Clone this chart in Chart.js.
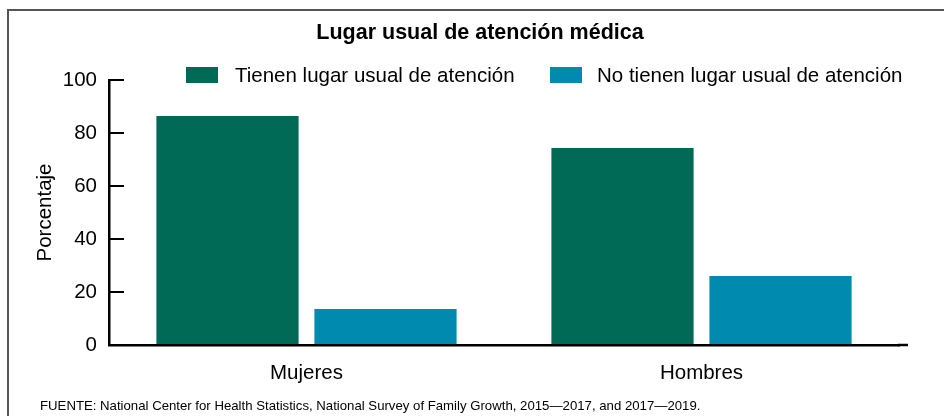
<!DOCTYPE html>
<html>
<head>
<meta charset="utf-8">
<script src="https://cdn.jsdelivr.net/npm/chart.js@4"></script>
<style>
  html, body { margin: 0; padding: 0; background: #fff; }
  #wrap { width: 944px; height: 416px; position: relative; }
</style>
</head>
<body>
<div id="wrap"><canvas id="c" width="944" height="416"></canvas></div>
<script>
const categories = ["Mujeres", "Hombres"];
const seriesNames = ["Tienen lugar usual de atención", "No tienen lugar usual de atención"];
const tieneLugar = [86.4, 74.3];
const noTieneLugar = [13.6, 26.0];
const yTicks = [0, 20, 40, 60, 80, 100];
const titleText = "Lugar usual de atención médica";
const yTitle = "Porcentaje";
const sourceText = "FUENTE: National Center for Health Statistics, National Survey of Family Growth, 2015\u20142017, and 2017\u20142019.";

const colors = ["#006a56", "#008ab0"];
const FONT = "'Liberation Sans', Arial, Helvetica, sans-serif";

const decor = {
  id: 'decor',
  afterDraw(chart) {
    const ctx = chart.ctx;
    const ca = chart.chartArea;
    ctx.save();
    // frame (top & left)
    ctx.strokeStyle = '#555';
    ctx.lineWidth = 2;
    ctx.beginPath();
    ctx.moveTo(8, 416);
    ctx.lineTo(8, 10);
    ctx.lineTo(944, 10);
    ctx.stroke();
    // title
    ctx.fillStyle = '#000';
    ctx.font = "bold 21.5px " + FONT;
    ctx.textAlign = 'center';
    ctx.textBaseline = 'alphabetic';
    ctx.fillText(titleText, 480, 39);
    // legend
    const boxX = [186, 550];
    const textX = [235, 597];
    ctx.font = "20.5px " + FONT;
    ctx.textAlign = 'left';
    chart.data.datasets.forEach((ds, i) => {
      ctx.fillStyle = ds.backgroundColor;
      ctx.fillRect(boxX[i], 67, 32, 16);
      ctx.fillStyle = '#000';
      ctx.fillText(ds.label, textX[i], 82);
    });
    // extend x axis line
    const xs = chart.scales.x;
    ctx.strokeStyle = '#000';
    ctx.lineWidth = 2.5;
    ctx.beginPath();
    ctx.moveTo(ca.right - 1, xs.top);
    ctx.lineTo(908, xs.top);
    ctx.stroke();
    // source
    ctx.font = "13.2px " + FONT;
    ctx.fillStyle = '#000';
    ctx.fillText(sourceText, 40, 410);
    ctx.restore();
  }
};

new Chart(document.getElementById('c'), {
  type: 'bar',
  data: {
    labels: categories,
    datasets: [
      { label: seriesNames[0], data: tieneLugar, backgroundColor: colors[0] },
      { label: seriesNames[1], data: noTieneLugar, backgroundColor: colors[1] }
    ]
  },
  options: {
    responsive: false,
    animation: false,
    devicePixelRatio: 1,
    layout: { padding: { left: 10, right: 45, top: 80, bottom: 31 } },
    plugins: {
      legend: { display: false },
      title: { display: false },
      tooltip: { enabled: false }
    },
    datasets: { bar: { categoryPercentage: 0.8, barPercentage: 0.9 } },
    scales: {
      x: {
        grid: { display: false },
        border: { display: true, color: '#000', width: 2.5 },
        ticks: { color: '#000', font: { family: FONT, size: 20.5 }, padding: 8 },
        afterFit(s) { s.height = 40; }
      },
      y: {
        min: 0, max: 100,
        afterBuildTicks(s) { s.ticks = yTicks.map(v => ({ value: v })); },
        grid: { display: true, drawOnChartArea: false, drawTicks: true, tickLength: -15, color: '#000', lineWidth: 2 },
        border: { display: true, color: '#000', width: 2.5 },
        ticks: { color: '#000', font: { family: FONT, size: 20.5 }, padding: 27 },
        title: { display: true, text: yTitle, color: '#000', font: { family: FONT, size: 20.5 }, padding: { top: 23, bottom: 0 } },
        afterFit(s) { s.width = 99; }
      }
    }
  },
  plugins: [decor]
});
</script>
</body>
</html>
